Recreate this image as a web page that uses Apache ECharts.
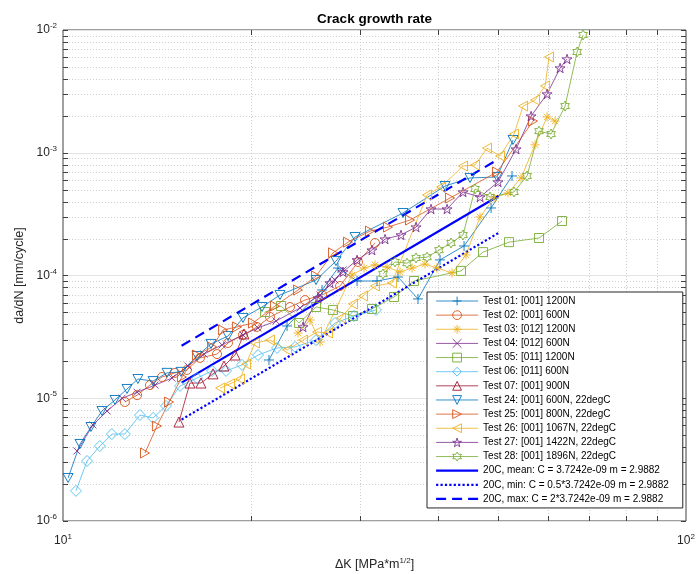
<!DOCTYPE html>
<html>
<head>
<meta charset="utf-8">
<script src="https://cdn.jsdelivr.net/npm/echarts@6/dist/echarts.min.js"></script>
<style>
  html, body { margin: 0; padding: 0; background: #fff; }
  #chart { width: 698px; height: 574px; }
</style>
</head>
<body>
<div id="chart"></div>
<script>
// ΔK [MPa*m^1/2] vs da/dN [mm/cycle]
var xDecades = [10, 100];
var yDecades = [1e-6, 1e-5, 1e-4, 1e-3, 1e-2];
var minorSteps = [2, 3, 4, 5, 6, 7, 8, 9];

var test01 = [[21.41, 2.05e-5], [22.89, 3.88e-5], [26.05, 7.62e-5], [27.63, 1.15e-4], [29.65, 9.02e-5],
  [31.92, 9.02e-5], [34.49, 9.72e-5], [37.14, 6.44e-5], [40.29, 1.34e-4], [44.03, 1.74e-4],
  [48.65, 3.55e-4], [52.57, 6.47e-4]];
var test02 = [[12.57, 9.32e-6], [13.15, 1.06e-5], [13.79, 1.28e-5], [14.42, 1.49e-5], [15.13, 1.61e-5],
  [15.81, 1.70e-5], [16.59, 2.13e-5], [17.67, 2.29e-5], [18.40, 2.82e-5], [19.45, 3.28e-5],
  [20.48, 3.81e-5], [21.49, 4.59e-5], [23.14, 5.54e-5], [24.46, 6.31e-5], [26.05, 6.94e-5],
  [27.84, 8.21e-5], [29.75, 1.29e-4], [31.68, 1.84e-4]];
var test03 = [[23.84, 3.40e-5], [24.92, 4.34e-5], [25.86, 2.87e-5], [29.10, 1.01e-4], [30.42, 1.15e-4],
  [31.68, 1.22e-4], [33.12, 1.17e-4], [34.75, 1.07e-4], [36.33, 1.15e-4], [38.11, 1.24e-4],
  [39.84, 1.15e-4], [42.12, 1.05e-4], [44.35, 1.47e-4], [46.71, 3.00e-4], [49.19, 4.28e-4],
  [51.80, 4.70e-4], [54.35, 6.23e-4], [57.24, 1.16e-3], [59.84, 1.96e-3], [61.64, 1.81e-3]];
var test04 = [[10.53, 3.72e-6], [11.17, 6.06e-6], [11.77, 7.87e-6], [12.44, 1.0e-5], [13.15, 1.12e-5],
  [14.05, 1.28e-5], [14.96, 1.46e-5], [15.87, 1.83e-5], [16.84, 2.29e-5], [18.00, 2.72e-5],
  [19.45, 3.28e-5], [20.56, 3.74e-5], [21.98, 4.26e-5], [24.01, 5.44e-5], [25.86, 6.94e-5],
  [27.33, 9.19e-5], [28.15, 1.11e-4]];
var test05 = [[21.10, 5.04e-5], [22.39, 5.64e-5], [23.93, 4.10e-5], [25.48, 5.54e-5], [27.13, 5.24e-5],
  [29.21, 4.68e-5], [31.33, 5.34e-5], [33.99, 6.68e-5], [36.60, 9.02e-5], [43.54, 1.09e-4],
  [47.23, 1.55e-4], [51.99, 1.87e-4], [58.09, 2.02e-4], [63.25, 2.78e-4]];
var test06 = [[10.49, 1.76e-6], [10.93, 3.08e-6], [11.46, 4.08e-6], [11.98, 5.11e-6], [12.57, 5.11e-6],
  [13.29, 7.30e-6], [13.95, 6.91e-6], [14.63, 8.65e-6], [15.41, 1.26e-5], [16.41, 1.46e-5],
  [17.35, 1.67e-5], [18.27, 1.67e-5], [19.38, 1.87e-5], [20.56, 2.25e-5], [22.06, 2.57e-5],
  [23.58, 2.62e-5], [25.48, 2.98e-5], [27.33, 4.10e-5], [29.32, 4.68e-5], [31.80, 5.24e-5]];
var test07 = [[15.35, 6.40e-6], [15.99, 1.33e-5], [16.65, 1.33e-5], [17.41, 1.58e-5], [18.13, 1.83e-5],
  [18.89, 2.25e-5], [19.52, 3.34e-5]];
var test24 = [[10.19, 2.24e-6], [10.65, 4.24e-6], [11.09, 5.83e-6], [11.55, 7.87e-6], [12.12, 9.68e-6],
  [12.67, 1.19e-5], [13.19, 1.435e-5], [13.95, 1.38e-5], [14.69, 1.61e-5], [15.47, 1.64e-5],
  [16.41, 2.21e-5], [17.28, 2.77e-5], [18.40, 3.21e-5], [19.45, 4.51e-5], [20.87, 5.54e-5],
  [22.30, 6.94e-5], [25.48, 9.19e-5], [27.43, 1.31e-4], [29.43, 2.06e-4], [35.14, 3.23e-4],
  [41.04, 5.36e-4], [45.01, 6.23e-4], [49.74, 6.35e-4], [52.77, 1.27e-3]];
var test25 = [[13.54, 3.58e-6], [14.15, 5.94e-6], [14.80, 9.32e-6], [15.52, 1.49e-5], [16.41, 2.25e-5],
  [17.35, 2.62e-5], [18.07, 3.60e-5], [19.03, 3.81e-5], [20.18, 4.10e-5], [21.89, 5.64e-5],
  [23.84, 7.62e-5], [25.48, 9.91e-5], [27.13, 1.53e-4], [28.67, 1.87e-4], [31.10, 2.30e-4],
  [33.24, 2.48e-4], [36.06, 2.83e-4], [41.81, 4.28e-4], [49.74, 6.97e-4], [56.82, 1.81e-3]];
var test26 = [[17.87, 1.21e-5], [18.54, 1.31e-5], [19.24, 1.435e-5], [19.67, 1.90e-5], [20.33, 2.82e-5],
  [21.49, 2.98e-5], [22.89, 2.47e-5], [24.28, 2.98e-5], [25.57, 3.46e-5], [26.63, 3.40e-5],
  [27.94, 4.51e-5], [29.21, 5.86e-5], [30.31, 6.81e-5], [31.68, 8.21e-5], [33.74, 8.69e-5],
  [38.40, 4.53e-4], [40.44, 5.26e-4], [43.86, 7.80e-4], [45.85, 7.95e-4], [47.93, 1.09e-3],
  [50.29, 9.41e-4], [52.96, 1.42e-3], [54.76, 2.40e-3], [57.24, 2.69e-3], [59.40, 3.50e-3],
  [60.28, 6.03e-3]];
var test27 = [[24.28, 3.81e-5], [25.67, 6.56e-5], [26.83, 8.69e-5], [28.15, 1.07e-4], [29.65, 1.34e-4],
  [31.33, 1.61e-4], [32.88, 1.98e-4], [34.88, 2.14e-4], [36.87, 2.48e-4], [38.97, 3.48e-4],
  [41.35, 3.48e-4], [43.86, 4.79e-4], [46.71, 4.36e-4], [49.92, 5.78e-4], [53.36, 1.07e-3],
  [56.40, 1.99e-3], [59.84, 3.01e-3], [62.79, 4.90e-3], [64.43, 5.80e-3]];
var test28 = [[32.63, 1.03e-4], [34.11, 1.29e-4], [35.66, 1.26e-4], [36.87, 1.39e-4], [38.40, 1.41e-4],
  [40.14, 1.61e-4], [41.96, 1.84e-4], [43.86, 2.14e-4], [45.85, 5.07e-4], [48.47, 4.36e-4],
  [52.96, 4.79e-4], [55.57, 6.47e-4], [58.09, 1.50e-3], [60.73, 1.42e-3], [63.96, 2.40e-3],
  [66.86, 6.62e-3], [68.36, 9.11e-3]];

// Paris law band, end points at dK = 15.5 and 50
var fitMean = [[15.5, 1.34e-5], [50, 4.44e-4]];
var fitMin = [[15.5, 6.7e-6], [50, 2.22e-4]];
var fitMax = [[15.5, 2.68e-5], [50, 8.88e-4]];

var FONT = '"Liberation Sans", Arial, Helvetica, sans-serif';
var C = ['#0072BD', '#D95319', '#EDB120', '#7E2F8E', '#77AC30', '#4DBEEE', '#A2142F'];

var SYM = {
  plus: 'path://M5,0L5,10M0,5L10,5',
  cross: 'path://M0,0L10,10M10,0L0,10',
  star: 'path://M5,0L5,10M0,5L10,5M1.5,1.5L8.5,8.5M8.5,1.5L1.5,8.5',
  square: 'rect',
  circle: 'circle',
  diamond: 'diamond',
  up: 'triangle',
  down: 'path://M0,0L10,0L5,9Z',
  right: 'path://M0,0L9,5L0,10Z',
  left: 'path://M9,0L0,5L9,10Z',
  penta: 'path://M5,0L6.12,3.45L9.76,3.45L6.82,5.59L7.94,9.05L5,6.91L2.06,9.05L3.18,5.59L0.24,3.45L3.88,3.45Z',
  hexa: 'path://M5,0L6.44,2.5L9.33,2.5L7.89,5L9.33,7.5L6.44,7.5L5,10L3.56,7.5L0.67,7.5L2.11,5L0.67,2.5L3.56,2.5Z'
};

var tests = [
  { name: 'Test 01: [001] 1200N', data: test01, color: C[0], symbol: SYM.plus, size: 10 },
  { name: 'Test 02: [001] 600N', data: test02, color: C[1], symbol: SYM.circle, size: 9 },
  { name: 'Test 03: [012] 1200N', data: test03, color: C[2], symbol: SYM.star, size: 9 },
  { name: 'Test 04: [012] 600N', data: test04, color: C[3], symbol: SYM.cross, size: 7 },
  { name: 'Test 05: [011] 1200N', data: test05, color: C[4], symbol: SYM.square, size: 9 },
  { name: 'Test 06: [011] 600N', data: test06, color: C[5], symbol: SYM.diamond, size: 11 },
  { name: 'Test 07: [001] 900N', data: test07, color: C[6], symbol: SYM.up, size: 10 },
  { name: 'Test 24: [001] 600N, 22degC', data: test24, color: C[0], symbol: SYM.down, size: 10 },
  { name: 'Test 25: [001] 800N, 22degC', data: test25, color: C[1], symbol: SYM.right, size: 10 },
  { name: 'Test 26: [001] 1067N, 22degC', data: test26, color: C[2], symbol: SYM.left, size: 10 },
  { name: 'Test 27: [001] 1422N, 22degC', data: test27, color: C[3], symbol: SYM.penta, size: 10 },
  { name: 'Test 28: [001] 1896N, 22degC', data: test28, color: C[4], symbol: SYM.hexa, size: 10 }
];

var fits = [
  { name: '20C, mean: C = 3.7242e-09 m = 2.9882', data: fitMean, type: 'solid' },
  { name: '20C, min: C = 0.5*3.7242e-09 m = 2.9882', data: fitMin, type: 'dotted' },
  { name: '20C, max: C = 2*3.7242e-09 m = 2.9882', data: fitMax, type: [10, 6] }
];

var series = [];
var legendData = [];
tests.forEach(function (t) {
  series.push({
    name: t.name,
    type: 'line',
    data: t.data,
    symbol: t.symbol,
    symbolSize: t.size,
    symbolKeepAspect: true,
    showAllSymbol: true,
    lineStyle: { color: t.color, width: 0.8 },
    itemStyle: { color: 'none', borderColor: t.color, borderWidth: 0.9 },
    emphasis: { disabled: true },
    animation: false
  });
  legendData.push({
    name: t.name,
    lineStyle: { color: t.color, width: 0.8, type: 'solid' },
    itemStyle: { color: 'rgba(0,0,0,0)', borderColor: t.color, borderWidth: 0.9 }
  });
});
fits.forEach(function (f) {
  series.push({
    name: f.name,
    type: 'line',
    data: f.data,
    symbol: 'none',
    lineStyle: { color: '#0000ff', width: 2.2, type: f.type },
    itemStyle: { color: '#0000ff' },
    emphasis: { disabled: true },
    animation: false
  });
  legendData.push({
    name: f.name,
    lineStyle: { color: '#0000ff', width: 2.2, type: f.type },
    itemStyle: { opacity: 0, color: 'rgba(0,0,0,0)', borderWidth: 0 }
  });
});

function supLabel(v) {
  return '{b|10}{s|' + Math.round(Math.log10(v)) + '}';
}
var supRich = {
  b: { fontSize: 12, lineHeight: 16, fontFamily: FONT, color: '#262626' },
  s: { fontSize: 8, lineHeight: 7, verticalAlign: 'top', fontFamily: FONT, color: '#262626' }
};

var chart = echarts.init(document.getElementById('chart'));
chart.setOption({
  animation: false,
  backgroundColor: '#fff',
  grid: {
    left: 63, right: 12, top: 30, bottom: 53,
    outerBoundsMode: 'none', containLabel: false,
    show: true, borderColor: '#404040', borderWidth: 1, backgroundColor: '#fff'
  },
  xAxis: {
    type: 'log', logBase: 10, min: xDecades[0], max: xDecades[1],
    name: 'ΔK [MPa*m{s|1/2}]',
    nameLocation: 'middle', nameGap: 36,
    nameTextStyle: {
      fontSize: 12.5, fontFamily: FONT, color: '#262626', lineHeight: 16,
      rich: { s: { fontSize: 8, lineHeight: 8, verticalAlign: 'top', fontFamily: FONT, color: '#262626' } }
    },
    axisLine: { show: false },
    axisTick: { show: false },
    splitLine: { show: false },
    axisLabel: { formatter: supLabel, rich: supRich, margin: 12 }
  },
  yAxis: {
    type: 'log', logBase: 10, min: yDecades[0], max: yDecades[yDecades.length - 1],
    name: 'da/dN [mm/cycle]',
    nameLocation: 'middle', nameGap: 36, nameRotate: 90,
    nameTextStyle: { fontSize: 12.5, fontFamily: FONT, color: '#262626' },
    axisLine: { show: false },
    axisTick: { show: false },
    splitLine: { show: true, lineStyle: { color: '#e3e3e3', width: 1 } },
    axisLabel: { formatter: supLabel, rich: supRich, margin: 6 }
  },
  legend: {
    orient: 'vertical', left: 427, top: 292,
    itemWidth: 42, itemHeight: 11, itemGap: 0.14,
    padding: [2, 14, 2, 8],
    backgroundColor: '#fff', borderColor: '#262626', borderWidth: 1,
    selectedMode: false,
    textStyle: { fontSize: 10, lineHeight: 14, fontFamily: FONT, color: '#000' },
    data: legendData
  },
  series: series
});

// minor grid, box ticks and title drawn through the chart's own scales
function decorate() {
  var toPx = function (x, y) { return chart.convertToPixel({ gridIndex: 0 }, [x, y]); };
  var lb = toPx(xDecades[0], yDecades[0]);
  var rt = toPx(xDecades[1], yDecades[yDecades.length - 1]);
  var left = lb[0], bottom = lb[1], right = rt[0], top = rt[1];
  var els = [];
  var minorStyle = { stroke: '#cfcfcf', lineWidth: 1, lineDash: [1, 2] };
  var tickStyle = { stroke: '#404040', lineWidth: 1 };
  var TL = 5;
  function seg(x1, y1, x2, y2, style, z) {
    els.push({ type: 'line', silent: true, z: z, shape: { x1: x1, y1: y1, x2: x2, y2: y2 }, style: style });
  }
  var xMinor = [], yMinor = [];
  for (var i = 0; i < xDecades.length - 1; i++) {
    minorSteps.forEach(function (m) { xMinor.push(xDecades[i] * m); });
  }
  for (var j = 0; j < yDecades.length - 1; j++) {
    minorSteps.forEach(function (m) { yMinor.push(yDecades[j] * m); });
  }
  xMinor.forEach(function (v) {
    var x = Math.round(toPx(v, yDecades[0])[0]) + 0.5;
    seg(x, top, x, bottom, minorStyle, 1);
    seg(x, bottom, x, bottom - TL, tickStyle, 1);
    seg(x, top, x, top + TL, tickStyle, 1);
  });
  yMinor.forEach(function (v) {
    var y = Math.round(toPx(xDecades[0], v)[1]) + 0.5;
    seg(left, y, right, y, minorStyle, 1);
    seg(left, y, left + TL, y, tickStyle, 1);
    seg(right, y, right - TL, y, tickStyle, 1);
  });
  yDecades.forEach(function (v) {
    var y = Math.round(toPx(xDecades[0], v)[1]) + 0.5;
    seg(left, y, left + TL, y, tickStyle, 1);
    seg(right, y, right - TL, y, tickStyle, 1);
  });
  els.push({
    type: 'text', silent: true, x: (left + right) / 2, y: 19,
    style: {
      text: 'Crack growth rate', font: 'bold 13.5px ' + FONT, fill: '#000',
      align: 'center', verticalAlign: 'middle'
    }
  });
  chart.setOption({ graphic: { elements: els } });
}
decorate();
</script>
</body>
</html>
